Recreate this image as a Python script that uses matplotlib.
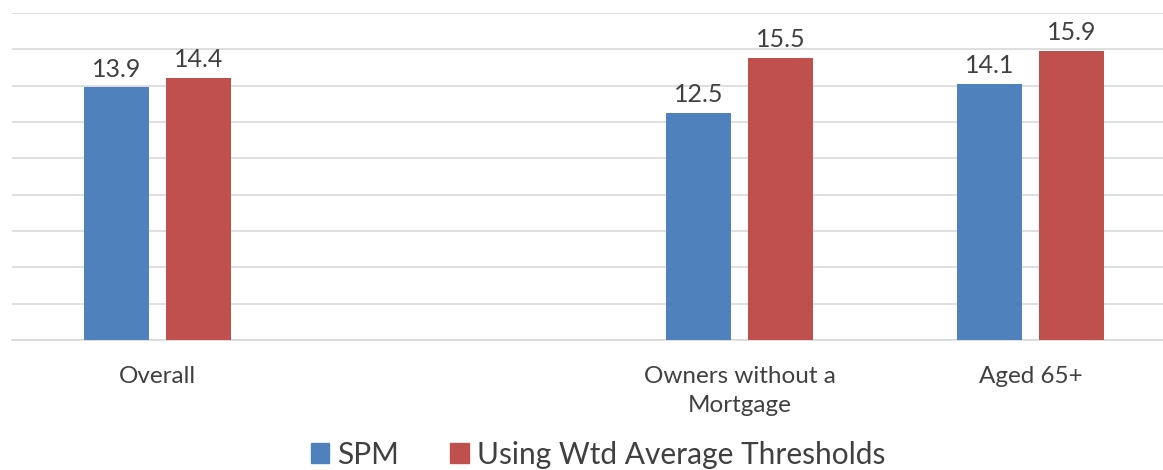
import numpy as np
import matplotlib
matplotlib.use("Agg")
import matplotlib.pyplot as plt
from matplotlib.patches import Patch

# Poverty rates (%) by group; the second slot is intentionally left blank
categories = ["Overall", "", "Owners without a\nMortgage", "Aged 65+"]
spm = [13.9, np.nan, 12.5, 14.1]
wtd_avg = [14.4, np.nan, 15.5, 15.9]
series_names = ["SPM", "Using Wtd Average Thresholds"]
colors = ["#4F81BD", "#C0504D"]
text_color = "#404040"
grid_color = "#D9D9D9"

plt.rcParams["font.family"] = ["Lato", "DejaVu Sans"]

W, H = 1163, 470
fig = plt.figure(figsize=(W / 100, H / 100), dpi=100)
ax = fig.add_axes([12 / W, (H - 340) / H, 1164 / W, 327 / H])

x = np.arange(len(categories))
bw = 0.2234
off = 0.1409

for vals, dx, col in zip([spm, wtd_avg], [-off, off], colors):
    bars = ax.bar(x + dx, vals, width=bw, color=col, zorder=3)
    labels = ["" if np.isnan(v) else f"{v:.1f}" for v in vals]
    ax.bar_label(bars, labels=labels, padding=5, fontsize=18, color=text_color)

ax.set_xlim(-0.5, len(categories) - 0.5)
ax.set_ylim(0, 18)
ax.set_yticks(np.arange(0, 19, 2))
ax.yaxis.grid(True, color=grid_color, linewidth=1.2, zorder=0)
ax.tick_params(axis="y", left=False, labelleft=False)
ax.set_xticks(x)
ax.set_xticklabels(categories, fontsize=17.5, color=text_color, linespacing=1.45)
ax.tick_params(axis="x", length=0, pad=19)
for s in ["top", "right", "left"]:
    ax.spines[s].set_visible(False)
ax.spines["bottom"].set_color(grid_color)
ax.spines["bottom"].set_linewidth(1.2)

handles = [Patch(color=c, label=n) for c, n in zip(colors, series_names)]
fig.legend(handles=handles, loc="lower center", bbox_to_anchor=(598 / W, 0.0),
           ncol=2, frameon=False, fontsize=21.5, labelcolor=text_color,
           handlelength=0.63, handleheight=0.63, handletextpad=0.27,
           columnspacing=1.7, borderaxespad=0.0, borderpad=0.05)

fig.savefig("out.png", dpi=100, facecolor="white")
